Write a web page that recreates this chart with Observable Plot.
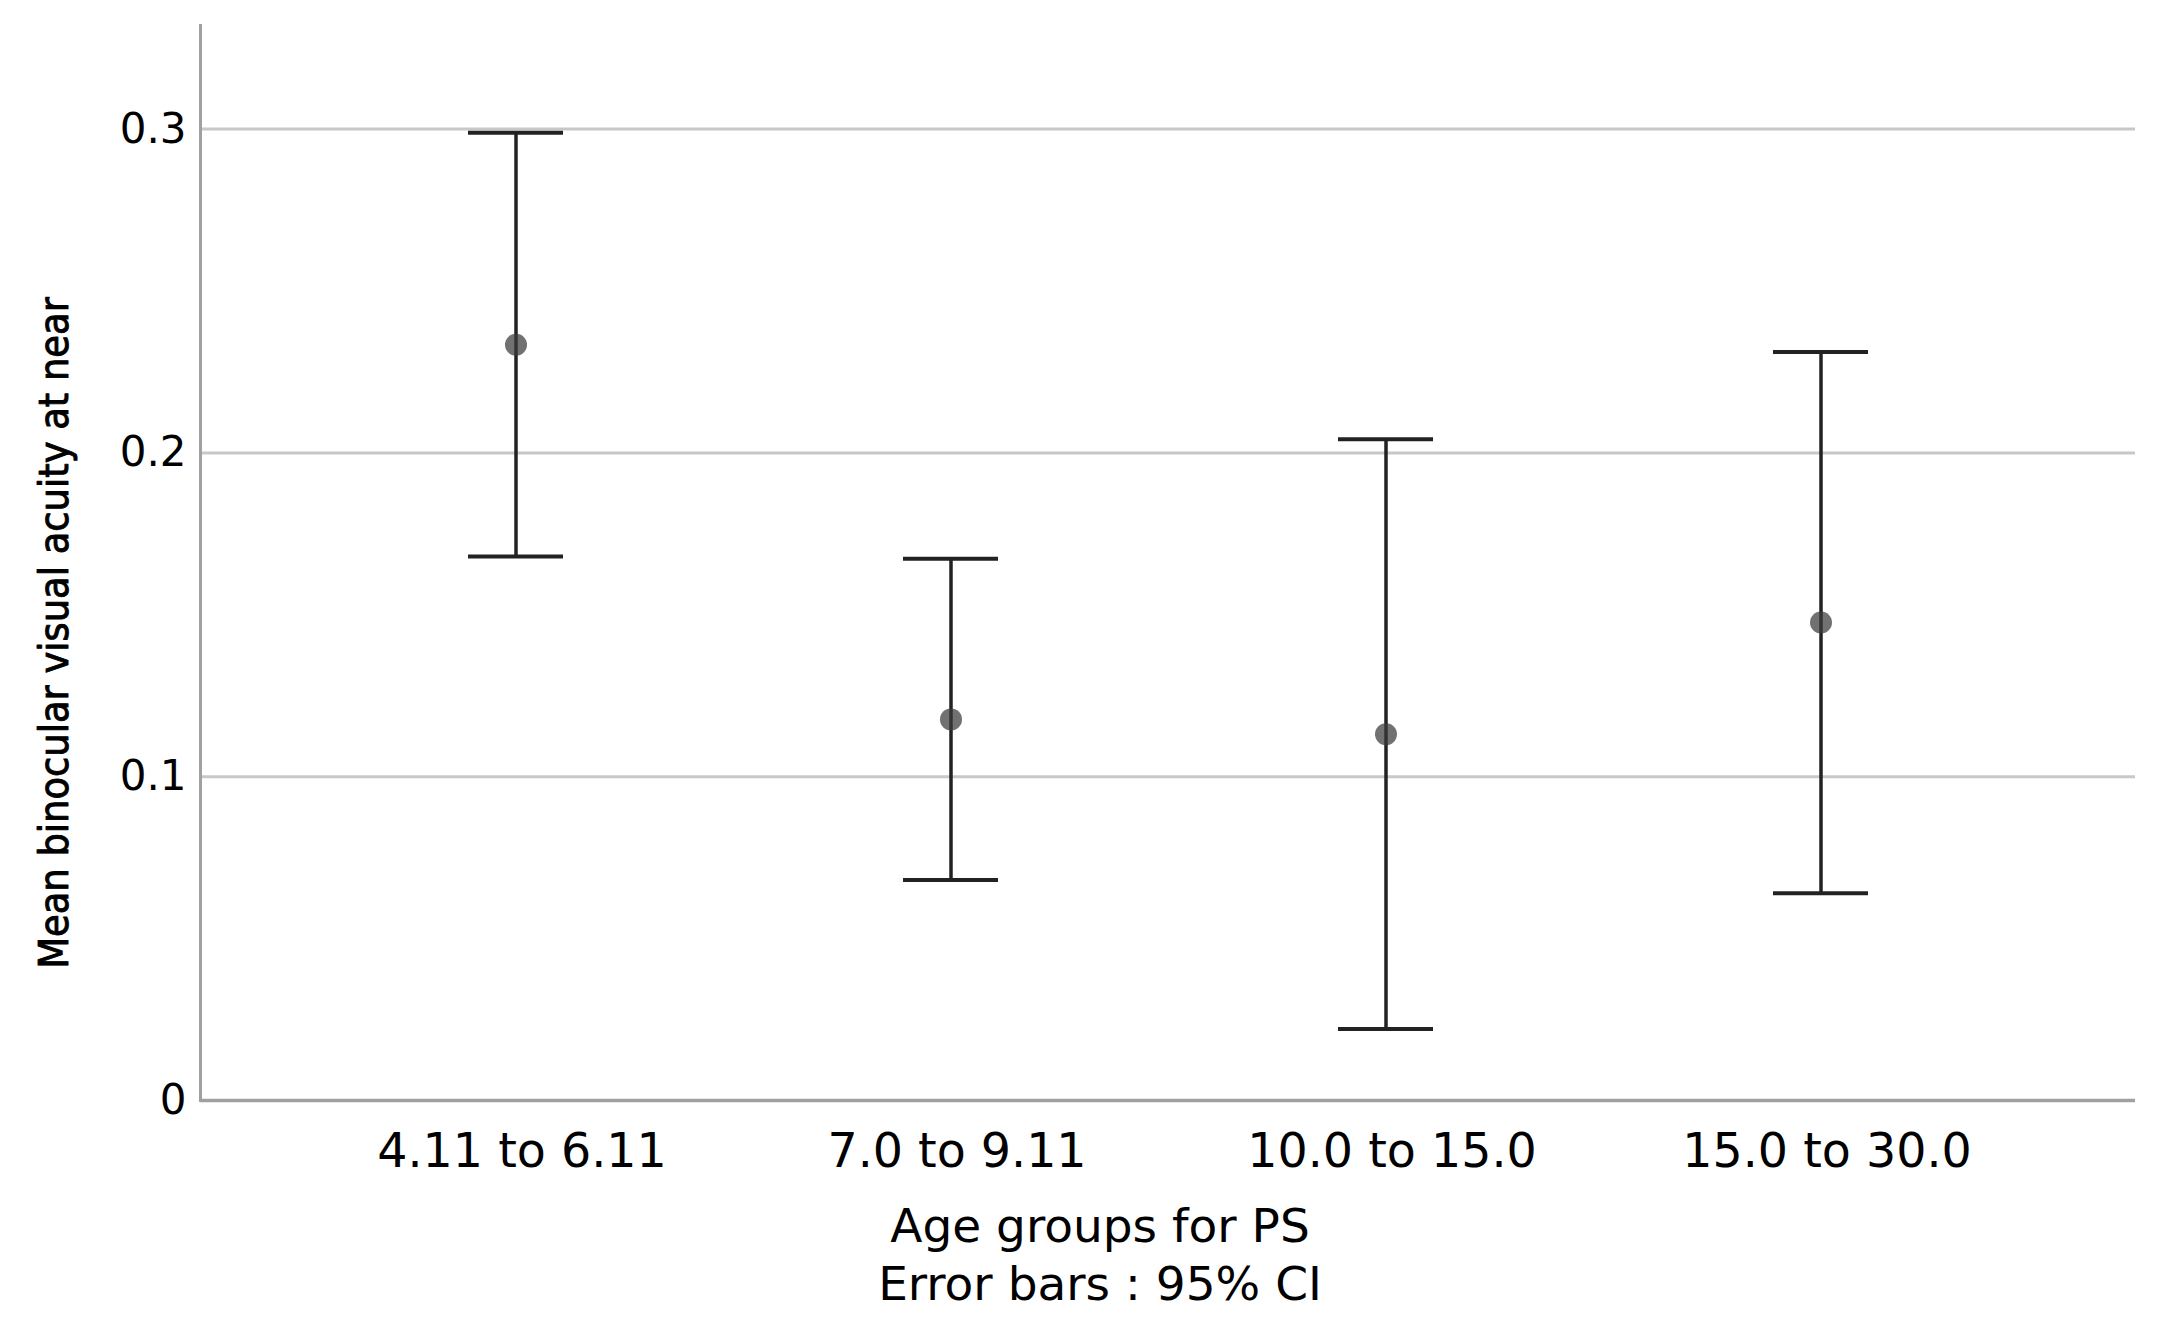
<!DOCTYPE html>
<html>
<head>
<meta charset="utf-8">
<script src="https://cdn.jsdelivr.net/npm/d3@7"></script>
<script src="https://cdn.jsdelivr.net/npm/@observablehq/plot@0.6"></script>
<style>
  html, body { margin: 0; padding: 0; background: #fff; }
</style>
</head>
<body>
<div id="chart"></div>
<script>
const groups = ["4.11 to 6.11", "7.0 to 9.11", "10.0 to 15.0", "15.0 to 30.0"];
const means  = [0.2334, 0.1177, 0.1131, 0.1476];
const lower  = [0.1680, 0.0681, 0.0221, 0.0640];
const upper  = [0.2989, 0.1673, 0.2042, 0.2312];
const yTicks = [0, 0.1, 0.2, 0.3];
const gridTicks = [0.1, 0.2, 0.3];
const yLabel = "Mean binocular visual acuity at near";
const xLabel = "Age groups for PS\nError bars : 95% CI";

const data = groups.map((g, i) => ({group: g, mean: means[i], lower: lower[i], upper: upper[i]}));

const chart = Plot.plot({
  width: 2168,
  height: 1332,
  marginLeft: 200,
  marginRight: 33,
  marginTop: 25,
  marginBottom: 232,
  style: {fontFamily: "DejaVu Sans", fontSize: "46px", background: "#fff", color: "#000"},
  x: {type: "band", domain: groups, paddingInner: 0.782, paddingOuter: 0.612},
  y: {domain: [0, 0.332]},
  marks: [
    Plot.ruleY(gridTicks, {stroke: "#c8c8c8", strokeWidth: 3}),
    Plot.frame({anchor: "left", stroke: "#a0a0a0", strokeWidth: 3}),
    Plot.ruleY([0], {stroke: "#a0a0a0", strokeWidth: 3.5}),
    Plot.axisX({tickSize: 0, tickPadding: 33, fontSize: 47.5, dx: 6, label: null, fill: "#000"}),
    Plot.axisY({ticks: yTicks, tickSize: 0, tickPadding: 14, fontSize: 42, label: null, fill: "#000",
      tickFormat: d => d === 0 ? "0" : d.toFixed(1)}),
    Plot.ruleX(data, {x: "group", y1: "lower", y2: "upper", stroke: "#222", strokeWidth: 3.5}),
    Plot.tickY(data, {x: "group", y: "upper", stroke: "#222", strokeWidth: 4}),
    Plot.tickY(data, {x: "group", y: "lower", stroke: "#222", strokeWidth: 4}),
    Plot.dot(data, {x: "group", y: "mean", r: 11, fill: "#3a3a3a", fillOpacity: 0.72, stroke: "none"}),
    Plot.text([yLabel], {frameAnchor: "left", text: d => d, rotate: -90, dx: -146, dy: 70,
      fontFamily: "DejaVu Sans Condensed", fontSize: 41, fill: "#000", stroke: "#000", strokeWidth: 0.9,
      textAnchor: "middle"}),
    Plot.text([xLabel], {frameAnchor: "bottom", text: d => d, dx: -68, dy: 100, lineAnchor: "top",
      lineHeight: 1.24, fontSize: 47, fill: "#000", textAnchor: "middle"})
  ]
});
document.getElementById("chart").appendChild(chart);
</script>
</body>
</html>
